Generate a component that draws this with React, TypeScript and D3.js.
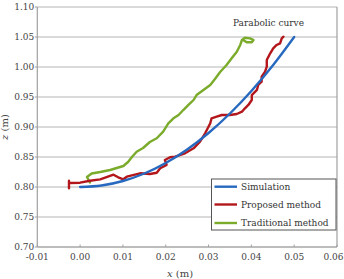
import React from "react";
import * as d3 from "d3";

// Simulated parabolic trajectory (x in m, z in m)
const simX = [0, 0.005, 0.01, 0.015, 0.02, 0.025, 0.03, 0.035, 0.04, 0.045, 0.05];
const simZ = [0.8, 0.8025, 0.81, 0.8225, 0.84, 0.8625, 0.89, 0.9225, 0.96, 1.0025, 1.05];

// Trajectory tracked by the proposed method
const propX = [-0.0026, -0.0026, -0.0026, 0.0, 0.0023, 0.0047, 0.0078, 0.0089, 0.0101, 0.0109, 0.014, 0.0163, 0.0179, 0.0187, 0.0202, 0.0198, 0.021, 0.0222, 0.0245, 0.0265, 0.028, 0.0292, 0.0304, 0.0307, 0.0319, 0.0331, 0.035, 0.0366, 0.0378, 0.0385, 0.0393, 0.0401, 0.0401, 0.0413, 0.0416, 0.0424, 0.0424, 0.0432, 0.0436, 0.0436, 0.0444, 0.0451, 0.0459, 0.0467, 0.0471, 0.0475];
const propZ = [0.8105, 0.7978, 0.8067, 0.8072, 0.8105, 0.8128, 0.8205, 0.8162, 0.8128, 0.8172, 0.8228, 0.8217, 0.8238, 0.8312, 0.8367, 0.845, 0.8495, 0.8505, 0.8562, 0.8645, 0.8755, 0.8895, 0.9062, 0.9145, 0.9172, 0.92, 0.92, 0.9217, 0.9255, 0.9312, 0.9367, 0.945, 0.9533, 0.9617, 0.97, 0.9755, 0.9838, 0.9922, 1.0005, 1.0117, 1.0228, 1.0312, 1.0367, 1.0395, 1.0478, 1.0505];

// Trajectory tracked by the traditional method
const tradX = [0.0023, 0.0016, 0.0027, 0.0047, 0.007, 0.0101, 0.0112, 0.0121, 0.0132, 0.0147, 0.0163, 0.0179, 0.0194, 0.0206, 0.0218, 0.023, 0.0241, 0.0253, 0.0265, 0.0272, 0.0288, 0.0304, 0.0315, 0.0327, 0.0342, 0.0354, 0.0366, 0.0374, 0.0378, 0.0385, 0.0397, 0.0405, 0.0401, 0.0389, 0.0381];
const tradZ = [0.8075, 0.8167, 0.8225, 0.825, 0.8283, 0.835, 0.8417, 0.85, 0.8588, 0.865, 0.875, 0.8812, 0.8922, 0.9062, 0.9145, 0.92, 0.9283, 0.9367, 0.945, 0.9533, 0.9617, 0.97, 0.98, 0.9917, 1.0033, 1.0145, 1.0255, 1.0367, 1.045, 1.0488, 1.0478, 1.045, 1.0412, 1.0412, 1.045];

const xTicks = [-0.01, 0, 0.01, 0.02, 0.03, 0.04, 0.05, 0.06];
const zTicks = [0.7, 0.75, 0.8, 0.85, 0.9, 0.95, 1.0, 1.05, 1.1];

const seriesNames = ["Simulation", "Proposed method", "Traditional method"];
const seriesColors = ["#2769bf", "#b3171c", "#7bab2b"];

const W = 344;
const H = 279;
const left = 37.3;
const right = 337;
const top = 7;
const bottom = 247;
const FONT = "'DejaVu Serif', serif";

export default function App() {
  const x = d3.scaleLinear().domain([-0.01, 0.06]).range([left, right]);
  const z = d3.scaleLinear().domain([0.7, 1.1]).range([bottom, top]);

  const toPts = (xs: number[], zs: number[]) => xs.map((v, i) => [v, zs[i]] as [number, number]);
  const smooth = d3
    .line<[number, number]>()
    .x((d) => x(d[0]))
    .y((d) => z(d[1]))
    .curve(d3.curveMonotoneX);
  const raw = d3
    .line<[number, number]>()
    .x((d) => x(d[0]))
    .y((d) => z(d[1]))
    .curve(d3.curveLinear);

  const series = [
    raw(toPts(tradX, tradZ)),
    raw(toPts(propX, propZ)),
    smooth(toPts(simX, simZ)),
  ];
  const seriesColorOrder = [seriesColors[2], seriesColors[1], seriesColors[0]];

  const legX = 211.5;
  const legY = 179;
  const legW = 124.5;
  const legH = 51;
  const rowY = [186.7, 204.5, 223];

  return (
    <svg
      width={W}
      height={H}
      style={{ position: "absolute", left: 0, top: 0, background: "#fff" }}
      fontFamily={FONT}
    >
      {/* grid */}
      {zTicks.map((t) => (
        <line key={"g" + t} x1={left} x2={right} y1={z(t)} y2={z(t)} stroke="#b4b4b4" strokeWidth={1} />
      ))}
      {/* frame */}
      <line x1={left} x2={left} y1={top} y2={bottom} stroke="#a0a0a0" strokeWidth={1.2} />
      <line x1={right} x2={right} y1={top} y2={bottom} stroke="#a0a0a0" strokeWidth={1.2} />
      <line x1={left} x2={right} y1={bottom} y2={bottom} stroke="#a0a0a0" strokeWidth={1.2} />

      {/* z ticks */}
      {zTicks.map((t) => (
        <g key={"zt" + t}>
          <line x1={left - 2.5} x2={left} y1={z(t)} y2={z(t)} stroke="#a0a0a0" />
          <text x={left - 3} y={z(t)} dy="0.35em" textAnchor="end" fontSize={9} fill="#444">
            {t.toFixed(2)}
          </text>
        </g>
      ))}
      {/* x ticks */}
      {xTicks.map((t, i) => {
        const last = i === xTicks.length - 1;
        return (
          <g key={"xt" + t}>
            <line x1={x(t)} x2={x(t)} y1={bottom - 2.5} y2={bottom} stroke="#a0a0a0" />
            <text
              x={last ? 343.5 : x(t)}
              y={260}
              textAnchor={last ? "end" : "middle"}
              fontSize={9}
              fill="#444"
            >
              {t.toFixed(2)}
            </text>
          </g>
        );
      })}

      {/* axis titles */}
      <text x={180} y={276.5} textAnchor="middle" fontSize={10} fill="#444">
        <tspan fontStyle="italic">x</tspan> (m)
      </text>
      <text
        transform={`translate(8,127) rotate(-90)`}
        textAnchor="middle"
        fontSize={10}
        fill="#444"
      >
        <tspan fontStyle="italic">z</tspan> (m)
      </text>

      {/* chart title */}
      <text x={268.5} y={25.5} textAnchor="middle" fontSize={9} fill="#333">
        Parabolic curve
      </text>

      {/* series */}
      {series.map((d, i) => (
        <path
          key={"s" + i}
          d={d || ""}
          fill="none"
          stroke={seriesColorOrder[i]}
          strokeWidth={2.4}
          strokeLinejoin="round"
          strokeLinecap="round"
        />
      ))}

      {/* legend */}
      <rect x={legX} y={legY} width={legW} height={legH} fill="#fff" stroke="#555" strokeWidth={1} />
      {seriesNames.map((n, i) => (
        <g key={"l" + i}>
          <line x1={214.5} x2={237} y1={rowY[i]} y2={rowY[i]} stroke={seriesColors[i]} strokeWidth={2.4} />
          <text x={241} y={rowY[i]} dy="0.35em" fontSize={9} fill="#333">
            {n}
          </text>
        </g>
      ))}
    </svg>
  );
}
